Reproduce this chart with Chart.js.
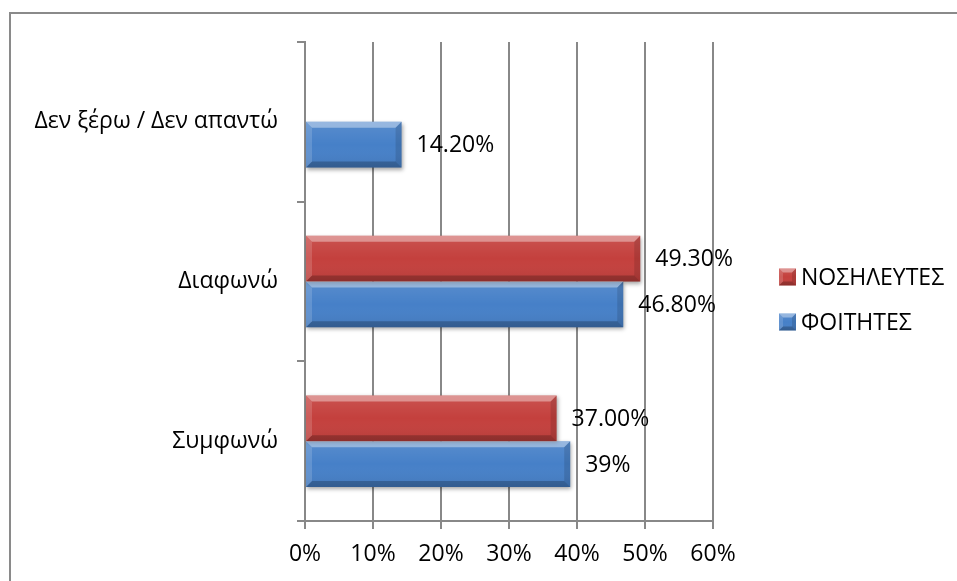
<!DOCTYPE html>
<html>
<head>
<meta charset="utf-8">
<script src="https://cdn.jsdelivr.net/npm/chart.js@4/dist/chart.umd.min.js"></script>
<style>
  html, body { margin: 0; padding: 0; background: #ffffff; }
  #wrap { position: relative; width: 957px; height: 581px; }
</style>
</head>
<body>
<div id="wrap"><canvas id="c" width="957" height="581"></canvas></div>
<script>
// Survey answers, top to bottom
const categories = ['Δεν ξέρω / Δεν απαντώ', 'Διαφωνώ', 'Συμφωνώ'];
const seriesNames = ['ΝΟΣΗΛΕΥΤΕΣ', 'ΦΟΙΤΗΤΕΣ'];
const nurses = [null, 49.3, 37.0];
const students = [14.2, 46.8, 39];
const nurseLabels = [null, '49.30%', '37.00%'];
const studentLabels = ['14.20%', '46.80%', '39%'];
const axisMin = 0;
const axisMax = 60;
const axisStep = 10;

const FONT = "'Open Sans', 'Noto Sans', 'DejaVu Sans', sans-serif";
const GRID = '#888888';
const RED = '#c4403d';
const BLUE = '#4680c8';

// Frame around the chart (top and left edges only)
const framePlugin = {
  id: 'frame',
  beforeDraw(chart) {
    const ctx = chart.ctx;
    ctx.save();
    ctx.strokeStyle = '#8a8a8a';
    ctx.lineWidth = 2;
    ctx.beginPath();
    ctx.moveTo(10, 581);
    ctx.lineTo(10, 13);
    ctx.lineTo(957, 13);
    ctx.stroke();
    ctx.restore();
  }
};

function bevel(ctx, l, t, r, b, k) {
  const w = r - l, h = b - t;
  if (w <= 0 || h <= 0) return;
  k = Math.min(k, w / 2, h / 2);
  // soft body shading
  const g = ctx.createLinearGradient(0, t, 0, b);
  g.addColorStop(0, 'rgba(255,255,255,0.10)');
  g.addColorStop(0.5, 'rgba(255,255,255,0.0)');
  g.addColorStop(1, 'rgba(0,0,0,0.08)');
  ctx.fillStyle = g;
  ctx.fillRect(l, t, w, h);
  const poly = (pts, fill) => {
    ctx.beginPath();
    ctx.moveTo(pts[0][0], pts[0][1]);
    for (let i = 1; i < pts.length; i++) ctx.lineTo(pts[i][0], pts[i][1]);
    ctx.closePath();
    ctx.fillStyle = fill;
    ctx.fill();
  };
  poly([[l, t], [r, t], [r - k, t + k], [l + k, t + k]], 'rgba(255,255,255,0.38)');
  poly([[l, b], [r, b], [r - k, b - k], [l + k, b - k]], 'rgba(0,0,0,0.22)');
  poly([[r, t], [r, b], [r - k, b - k], [r - k, t + k]], 'rgba(0,0,0,0.12)');
  poly([[l, t], [l, b], [l + k, b - k], [l + k, t + k]], 'rgba(255,255,255,0.15)');
}

// Raised look for bars, drop shadow and value labels
const barLookPlugin = {
  id: 'barLook',
  beforeDatasetsDraw(chart) {
    const ctx = chart.ctx;
    ctx.save();
    ctx.shadowColor = 'rgba(0,0,0,0.35)';
    ctx.shadowBlur = 4;
    ctx.shadowOffsetX = 1;
    ctx.shadowOffsetY = 2;
  },
  afterDatasetsDraw(chart) {
    const ctx = chart.ctx;
    ctx.restore();
    const labelSets = [nurseLabels, studentLabels];
    chart.data.datasets.forEach((ds, di) => {
      const meta = chart.getDatasetMeta(di);
      meta.data.forEach((el, i) => {
        if (ds.data[i] === null || ds.data[i] === undefined) return;
        const p = el.getProps(['x', 'y', 'base', 'height'], true);
        const l = Math.min(p.base, p.x), r = Math.max(p.base, p.x);
        const t = p.y - p.height / 2, b = p.y + p.height / 2;
        ctx.save();
        bevel(ctx, l, t, r, b, 6);
        ctx.restore();
      });
    });
    ctx.save();
    ctx.fillStyle = '#000000';
    ctx.font = '23px ' + FONT;
    ctx.textAlign = 'left';
    ctx.textBaseline = 'middle';
    chart.data.datasets.forEach((ds, di) => {
      const meta = chart.getDatasetMeta(di);
      meta.data.forEach((el, i) => {
        const txt = labelSets[di][i];
        if (!txt) return;
        const p = el.getProps(['x', 'y'], true);
        ctx.fillText(txt, p.x + 15, p.y + 1);
      });
    });
    ctx.restore();
  }
};

// Legend on the right, with raised swatches
const legendPlugin = {
  id: 'sideLegend',
  afterDraw(chart) {
    const ctx = chart.ctx;
    const o = chart.options.plugins.sideLegend;
    ctx.save();
    ctx.font = o.fontSize + 'px ' + FONT;
    ctx.textBaseline = 'middle';
    ctx.textAlign = 'left';
    chart.data.datasets.forEach((ds, i) => {
      const cy = o.y + i * o.gap;
      const x = o.x, s = o.box;
      ctx.fillStyle = ds.backgroundColor;
      ctx.fillRect(x, cy - s / 2, s, s);
      bevel(ctx, x, cy - s / 2, x + s, cy + s / 2, 4);
      ctx.fillStyle = '#000000';
      ctx.fillText(ds.label, x + s + 5, cy + 1);
    });
    ctx.restore();
  }
};

new Chart(document.getElementById('c'), {
  type: 'bar',
  data: {
    labels: categories,
    datasets: [
      { label: seriesNames[0], data: nurses, backgroundColor: RED },
      { label: seriesNames[1], data: students, backgroundColor: BLUE }
    ]
  },
  options: {
    indexAxis: 'y',
    responsive: false,
    animation: false,
    devicePixelRatio: 1,
    layout: { padding: { left: 0, top: 42, right: 244, bottom: 0 } },
    datasets: {
      bar: { categoryPercentage: 0.573, barPercentage: 1.0, borderWidth: 0 }
    },
    scales: {
      x: {
        min: axisMin,
        max: axisMax,
        afterFit(s) { s.height = 60; },
        ticks: {
          stepSize: axisStep,
          color: '#000000',
          font: { family: FONT, size: 23 },
          padding: 12,
          callback: v => v + '%'
        },
        grid: { color: GRID, lineWidth: 2, tickLength: 8, drawTicks: true },
        border: { color: GRID, width: 2 }
      },
      y: {
        afterFit(s) { s.width = 305; },
        ticks: {
          color: '#000000',
          font: { family: FONT, size: 23 },
          padding: 19
        },
        grid: { offset: true, drawOnChartArea: false, color: GRID, lineWidth: 2, tickLength: 8 },
        border: { color: GRID, width: 2 }
      }
    },
    plugins: {
      legend: { display: false },
      tooltip: { enabled: false },
      sideLegend: { x: 779, y: 277, gap: 45, box: 17, fontSize: 23 }
    }
  },
  plugins: [framePlugin, barLookPlugin, legendPlugin]
});
</script>
</body>
</html>
